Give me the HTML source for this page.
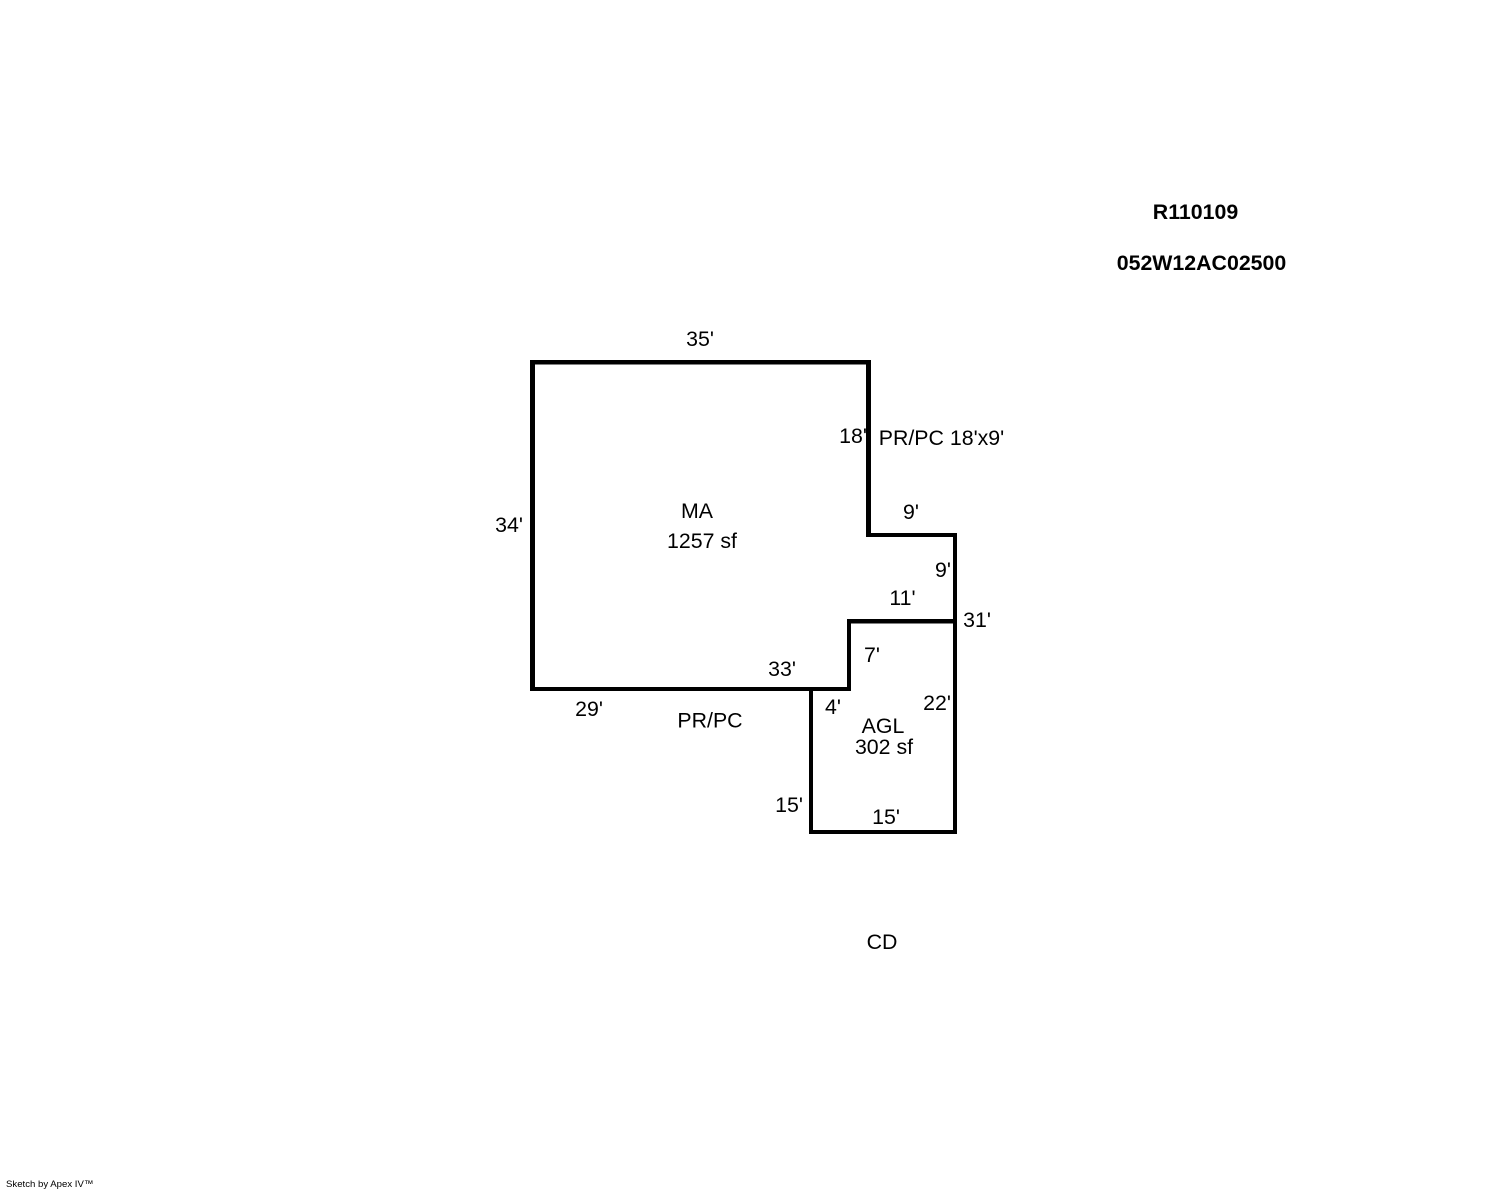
<!DOCTYPE html>
<html>
<head>
<meta charset="utf-8">
<style>
html,body{margin:0;padding:0;background:#fff;width:1488px;height:1190px;overflow:hidden}
svg{display:block}
text{font-family:"Liberation Sans",Arial,sans-serif;font-size:21.33px;fill:#000;text-anchor:middle}
.b{font-weight:bold}
</style>
</head>
<body>
<svg width="1488" height="1190" viewBox="0 0 1488 1190" xmlns="http://www.w3.org/2000/svg">
<rect width="1488" height="1190" fill="#fff"/>
<g fill="#000">
<rect x="530" y="360" width="341" height="4.5"/>
<rect x="530" y="360" width="5" height="331"/>
<rect x="530" y="687" width="321" height="4"/>
<rect x="847" y="619" width="4" height="72"/>
<rect x="847" y="619" width="110" height="4.5"/>
<rect x="953" y="533" width="4" height="301"/>
<rect x="866" y="533" width="91" height="4"/>
<rect x="866" y="360" width="5" height="177"/>
<rect x="809" y="687" width="4" height="147"/>
<rect x="809" y="830" width="148" height="4"/>
</g>
<text class="b" x="1195.5" y="219">R110109</text>
<text class="b" x="1201.5" y="270">052W12AC02500</text>
<text x="700" y="346">35'</text>
<text x="853" y="443">18'</text>
<text x="941.5" y="445">PR/PC 18'x9'</text>
<text x="911" y="519">9'</text>
<text x="509" y="532">34'</text>
<text x="697" y="518">MA</text>
<text x="702" y="548">1257 sf</text>
<text x="943" y="577">9'</text>
<text x="902.5" y="605">11'</text>
<text x="977" y="627">31'</text>
<text x="872" y="662">7'</text>
<text x="782" y="676">33'</text>
<text x="937" y="710">22'</text>
<text x="833" y="714">4'</text>
<text x="589" y="716">29'</text>
<text x="710" y="727.5">PR/PC</text>
<text x="883" y="733">AGL</text>
<text x="884" y="754">302 sf</text>
<text x="789" y="812">15'</text>
<text x="886" y="824">15'</text>
<text x="882" y="949">CD</text>
<text x="6" y="1187" style="font-size:9.6px;text-anchor:start">Sketch by Apex IV™</text>
</svg>
</body>
</html>
